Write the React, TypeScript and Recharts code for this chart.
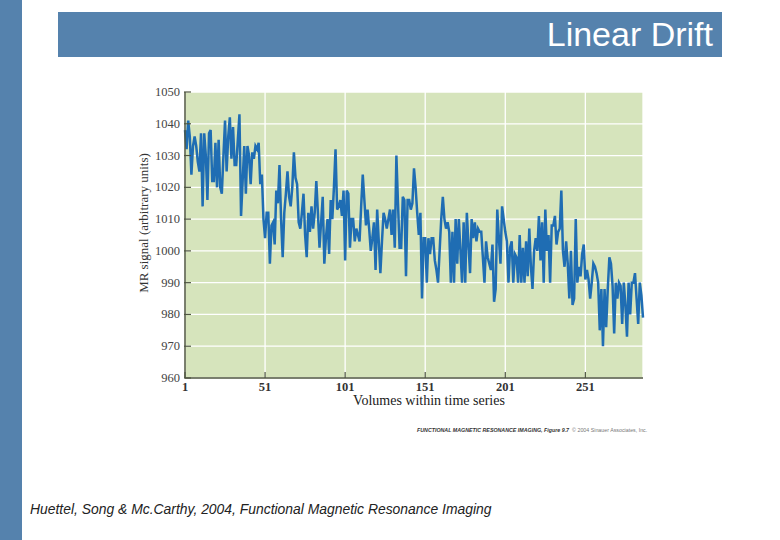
import React from 'react';
import { LineChart, Line, XAxis, YAxis, CartesianGrid, Label } from 'recharts';

const signalA: number[] = [
  1038, 1032, 1041, 1036, 1024, 1033, 1036, 1033, 1028, 1025,
  1037, 1014, 1037, 1030, 1016, 1037, 1038, 1022, 1022, 1034,
  1020, 1035, 1020, 1018, 1030, 1041, 1025, 1036, 1042, 1029,
  1039, 1027, 1027, 1035, 1043, 1011, 1022, 1033, 1018, 1033,
  1030, 1021, 1031, 1029, 1033, 1032, 1034, 1021, 1024, 1010,
  1004, 1012, 1012, 996, 1008, 1009, 1002, 1019, 1015, 1027,
  1010, 998, 1012, 1018, 1025, 1017, 1014, 1020, 1031, 1023,
  1021, 1009,
];

const signalB: number[] = [
  1007, 1012, 1018, 1005, 998, 1012, 1006, 1014, 1007, 1012,
  1022, 1012, 1001, 1009, 1017, 996, 1004, 1010, 999, 1016,
  1010, 1020, 1032, 1013, 1014, 1016, 1011, 1019, 997, 1019,
  1018, 1001, 1010, 1010, 1003, 1007, 1005, 1003, 1014, 1024,
  1016, 1008, 1013, 1007, 1000, 1004, 1009, 994, 1013, 1003,
  993, 1003, 1012, 1010, 1007, 1010, 1013, 1005, 1013, 1001,
  1030, 1015, 1001, 1001, 1017, 1016, 992, 1016, 1016, 1013,
  1015, 1026, 1020, 1012, 1005, 1012, 985, 1004, 1004, 990,
  1004, 999, 1004, 1004, 997, 994, 990, 1000, 1010, 1017,
  1010, 1007, 1009, 1006, 990,
];

const signalC: number[] = [
  1006, 990, 1010, 996, 1010, 1000, 990, 1009, 990, 1012,
  1002, 993, 1010, 1004, 1009, 1003, 1007, 1006, 1006, 998,
  990, 1003, 998, 996, 994, 1002, 984, 988, 1013, 1004,
  996, 1014, 1010, 1006, 1003, 990, 1001, 1003, 990, 999,
  998, 990, 1005, 990, 1001, 990, 1003, 992, 1007, 995,
  988, 1000, 1004, 1000, 1011, 997, 1009, 990, 1013, 1000,
  1005, 990, 1008, 1008, 1011, 1002, 1006, 1007, 1019, 1000,
  995, 1003, 996, 985, 1000, 983, 985, 1010, 990, 995,
  992, 999, 1002, 991, 994, 991, 985, 990, 996, 995,
  993, 990, 975, 988, 970, 988, 976, 988, 998, 996,
  989, 974, 990, 985, 990, 989, 977, 990, 983, 973,
  990, 980, 990, 990, 993, 985, 977, 990, 986, 979,
];

const xTicks: number[] = [1, 51, 101, 151, 201, 251];
const yTicks: number[] = [960, 970, 980, 990, 1000, 1010, 1020, 1030, 1040, 1050];

const signal = [...signalA, ...signalB, ...signalC];
const data = signal.map((v, i) => ({ vol: i + 1, mr: v }));

const SERIF = '"Liberation Serif", "DejaVu Serif", serif';
const SANS = '"Liberation Sans", Arial, sans-serif';
const SLIDE_BLUE = '#5582AD';
const AXIS = '#4f5640';

const YTick = (props: any) => {
  const { x, y, payload } = props;
  return (
    <g>
      <text x={x} y={y} textAnchor="end" dominantBaseline="central" fontFamily={SERIF} fontSize={12.5} fill="#444">
        {payload.value}
      </text>
      <line x1={x + 4} x2={x + 11} y1={y} y2={y} stroke={AXIS} strokeWidth={1.2} />
    </g>
  );
};

const XTick = (props: any) => {
  const { x, y, payload } = props;
  return (
    <g>
      <line x1={x} x2={x} y1={y - 3} y2={y - 9} stroke={AXIS} strokeWidth={1.2} />
      <text x={x} y={y + 10} textAnchor="middle" fontFamily={SERIF} fontSize={12.5} fontWeight="bold" fill="#333">
        {payload.value}
      </text>
    </g>
  );
};

export default function App() {
  return (
    <div style={{ position: 'fixed', left: 0, top: 0, width: 780, height: 540, background: '#fff', overflow: 'hidden' }}>
      <div style={{ position: 'absolute', left: 0, top: 0, width: 22, height: 540, background: SLIDE_BLUE }} />
      <div style={{ position: 'absolute', left: 58, top: 12, width: 664, height: 45, background: SLIDE_BLUE }} />
      <div style={{ position: 'absolute', left: 0, top: 0 }}>
        <LineChart width={780} height={540} data={data} margin={{ top: 92, right: 137, bottom: 116, left: 105 }}>
          <CartesianGrid fill="#D6E4BC" fillOpacity={1} stroke="#ffffff" strokeWidth={1.3} />
          <XAxis
            dataKey="vol"
            type="number"
            domain={[1, 287]}
            ticks={xTicks}
            height={46}
            tickSize={0}
            tickMargin={3}
            tick={<XTick />}
            axisLine={{ stroke: AXIS, strokeWidth: 1.5 }}
            tickLine={false}
          >
            <Label
              content={(p: any) => {
                const vb = p.viewBox;
                return (
                  <text x={vb.x + vb.width / 2 + 15} y={vb.y + 27} textAnchor="middle" fontFamily={SERIF} fontSize={14} fill="#1a1a1a">
                    Volumes within time series
                  </text>
                );
              }}
            />
          </XAxis>
          <YAxis
            type="number"
            domain={[960, 1050]}
            ticks={yTicks}
            width={80}
            tickSize={0}
            tickMargin={5}
            tick={<YTick />}
            axisLine={{ stroke: AXIS, strokeWidth: 1.5 }}
            tickLine={false}
            allowDataOverflow
          >
            <Label
              content={(p: any) => {
                const vb = p.viewBox;
                const cx = vb.x + vb.width / 2 - 2;
                const cy = vb.y + vb.height / 2 - 12;
                return (
                  <text transform={`translate(${cx},${cy}) rotate(-90)`} textAnchor="middle" dominantBaseline="central" fontFamily={SERIF} fontSize={13} fill="#333">
                    MR signal (arbitrary units)
                  </text>
                );
              }}
            />
          </YAxis>
          <Line type="linear" dataKey="mr" stroke="#1F6DB3" strokeWidth={2.5} dot={false} isAnimationActive={false} strokeLinejoin="miter" />
        </LineChart>
      </div>
      <svg width={780} height={540} style={{ position: 'absolute', left: 0, top: 0, pointerEvents: 'none' }}>
        <text x={713} y={46} textAnchor="end" fontFamily={SANS} fontSize={34} fill="#ffffff">Linear Drift</text>
        <text x={417} y={432} fontFamily={SANS} fontSize={5.3} fill="#333">
          <tspan fontWeight="bold" fontStyle="italic">FUNCTIONAL MAGNETIC RESONANCE IMAGING, Figure 9.7</tspan>
          <tspan fill="#777" dx={3}>© 2004 Sinauer Associates, Inc.</tspan>
        </text>
        <text x={30} y={514} fontFamily={SANS} fontSize={13.9} fontStyle="italic" fill="#222">
          Huettel, Song &amp; Mc.Carthy, 2004, Functional Magnetic Resonance Imaging
        </text>
      </svg>
    </div>
  );
}
